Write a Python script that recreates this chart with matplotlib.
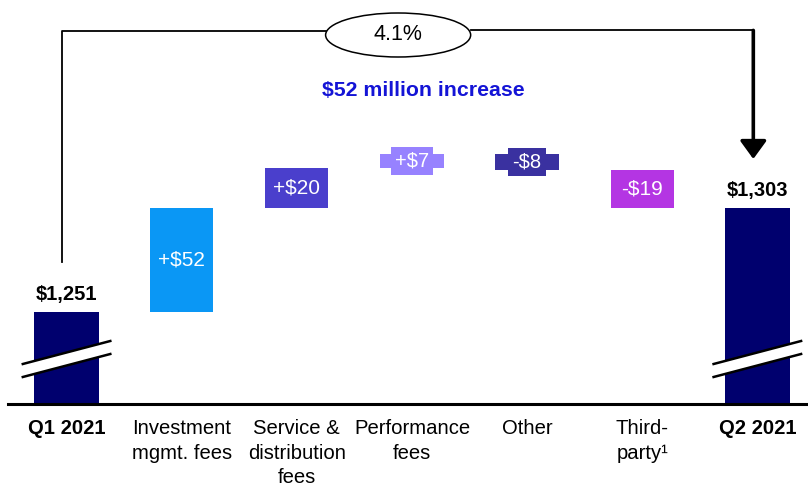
import matplotlib
matplotlib.use("Agg")
import matplotlib.pyplot as plt
from matplotlib.patches import Ellipse, Polygon

plt.rcParams['font.family'] = ['Liberation Sans', 'DejaVu Sans']

# -----------------------------
# Data
# -----------------------------
categories = ["Q1 2021", "Investment\nmgmt. fees", "Service &\ndistribution\nfees",
              "Performance\nfees", "Other", "Third-\nparty\u00b9", "Q2 2021"]
start_value = 1251
end_value = 1303
changes = [52, 20, 7, -8, -19]
change_labels = ["+$52", "+$20", "+$7", "-$8", "-$19"]
change_colors = ["#0A97F5", "#4A3FCC", "#9782FF", "#3A31A0", "#B435E3"]
total_color = "#00006E"
pct_label = "4.1%"
headline = "$52 million increase"

base = 1204.5
width = 0.55

# -----------------------------
# Figure
# -----------------------------
fig = plt.figure(figsize=(8.08, 4.88), dpi=100)
ax = fig.add_axes([0, 83 / 488, 1, 405 / 488])
ax.set_xlim(-0.578, 6.44)
ax.set_ylim(base, base + 405 / 2)
for s in ax.spines.values():
    s.set_visible(False)
ax.set_yticks([])

# totals
x_last = len(categories) - 1
ax.bar(0, start_value - base, bottom=base, width=0.565, color=total_color)
ax.bar(x_last, end_value - base, bottom=base, width=0.565, color=total_color)

# changes
level = start_value
for i, (c, lab, col) in enumerate(zip(changes, change_labels, change_colors), start=1):
    ax.bar(i, c, bottom=level, width=width, color=col)
    mid = level + c / 2
    if abs(c) < 10:
        ax.text(i, mid, lab, ha="center", va="center", color="white", fontsize=14.5,
                bbox=dict(boxstyle="square,pad=0.2", fc=col, ec="none"))
    else:
        ax.text(i, mid, lab, ha="center", va="center", color="white", fontsize=15)
    level += c

# total labels
for x, v in [(0, start_value), (x_last, end_value)]:
    ax.annotate(f"${v:,}", (x, v), xytext=(0, 6), textcoords="offset points",
                ha="center", va="bottom", fontsize=14.5, fontweight="bold")

# break marks
for x in [0, x_last]:
    x0, x1 = x - 0.38, x + 0.38
    y0, y1 = base + 20.5, base + 32
    gap = 6.5
    band = Polygon([[x0, y0], [x1, y1], [x1, y1 - gap], [x0, y0 - gap]],
                   closed=True, fc="white", ec="none", zorder=3)
    ax.add_patch(band)
    ax.plot([x0, x1], [y0, y1], color="black", lw=1.8, zorder=4)
    ax.plot([x0, x1], [y0 - gap, y1 - gap], color="black", lw=1.8, zorder=4)

# baseline
ax.plot([-0.508, 6.44], [base + 0.3, base + 0.3], color="black", lw=2.2, clip_on=False, zorder=5)

# category labels
ax.set_xticks(range(len(categories)))
ax.set_xticklabels(categories, fontsize=14.6, linespacing=1.38)
ax.tick_params(axis="x", length=0, pad=10)
for t in (ax.get_xticklabels()[0], ax.get_xticklabels()[-1]):
    t.set_fontweight("bold")

# bracket with growth ellipse
top_y = 1391
ex, ey, ew, eh = 2.88, 1389.5, 1.26, 22
left_x = -0.04
right_x = 5.965
ax.plot([left_x, left_x, ex - ew / 2], [start_value + 25, top_y + 0.5, top_y + 0.5],
        color="black", lw=1.3)
ax.plot([ex + ew / 2, right_x], [top_y + 0.8, top_y + 0.8], color="black", lw=1.3)
ax.annotate("", xy=(right_x, end_value + 24.5), xytext=(right_x, top_y + 0.8),
            arrowprops=dict(arrowstyle="-|>,head_length=0.55,head_width=0.4",
                            mutation_scale=20, lw=2.6, color="black",
                            shrinkA=0, shrinkB=0))
ax.add_patch(Ellipse((ex, ey), ew, eh, fc="white", ec="black", lw=1.1, zorder=5))
ax.text(ex, ey, pct_label, ha="center", va="center", fontsize=15.5, zorder=6)

ax.text(3.097, 1362, headline, ha="center", va="center", fontsize=15.3,
        fontweight="bold", color="#1414D6")

fig.savefig("out.png", dpi=100)
